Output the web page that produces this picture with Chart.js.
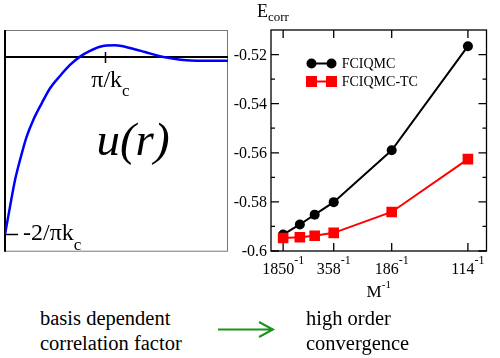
<!DOCTYPE html>
<html>
<head>
<meta charset="utf-8">
<script src="https://cdn.jsdelivr.net/npm/chart.js@4.4.1/dist/chart.umd.min.js"></script>
<style>
  body { margin: 0; background: #fff; }
  #wrap { position: relative; width: 500px; height: 358px; overflow: hidden; font-family: "Liberation Serif", serif; }
  canvas { position: absolute; top: 0; }
  #uChart { left: 0; }
  #eChart { left: 230px; }
  .note { position: absolute; font-size: 20.5px; line-height: 25px; color: #000; white-space: nowrap; }
  svg { position: absolute; left: 0; top: 0; }
</style>
</head>
<body>
<div id="wrap">
  <canvas id="uChart" width="235" height="300"></canvas>
  <canvas id="eChart" width="270" height="300"></canvas>
  <div class="note" style="left:40px; top:306px;">basis dependent<br>correlation factor</div>
  <svg width="500" height="358">
    <path d="M218 329.5 L272 329.5 M259 322 L273 329.5 L259 337" stroke="#1b941b" stroke-width="2" fill="none"/>
  </svg>
  <div class="note" style="left:306px; top:306px;">high order<br>convergence</div>
</div>
<script>
// correlation factor u(r): r in units of pi/kc, u in units of 2/(pi kc)
const rValues = [0, 0.05, 0.1, 0.15, 0.216, 0.282, 0.366, 0.449, 0.548, 0.648, 0.748, 0.847, 0.947, 1.097, 1.246, 1.396, 1.545, 1.645, 1.778, 1.911, 2.044, 2.223];
const uValues = [-1.0, -0.843, -0.693, -0.58, -0.449, -0.355, -0.261, -0.176, -0.107, -0.045, 0.002, 0.034, 0.058, 0.066, 0.051, 0.028, 0.004, -0.006, -0.017, -0.021, -0.021, -0.021];

// correlation energy vs basis size M
const basisSizes = [1850, 778, 514, 358, 186, 114];
const ecorrFciqmc = [-0.5933, -0.5892, -0.5852, -0.5801, -0.5590, -0.5166];
const ecorrFciqmcTC = [-0.5947, -0.5944, -0.5938, -0.5926, -0.5841, -0.5626];
const xTickBasis = [1850, 358, 186, 114];
const yTickValues = [-0.6, -0.58, -0.56, -0.54, -0.52];
const yTickLabels = ['-0.6', '-0.58', '-0.56', '-0.54', '-0.52'];
const yMinorValues = [-0.59, -0.57, -0.55, -0.53];

const FONT = '"Liberation Serif", serif';

function drawParts(ctx, parts, x, y, center) {
  let w = 0;
  parts.forEach(p => {
    ctx.font = (p.italic ? 'italic ' : '') + p.size + 'px ' + FONT;
    p.w = ctx.measureText(p.t).width;
    w += p.w;
  });
  let cx = center ? x - w / 2 : x;
  ctx.textAlign = 'left';
  ctx.textBaseline = 'alphabetic';
  parts.forEach(p => {
    ctx.font = (p.italic ? 'italic ' : '') + p.size + 'px ' + FONT;
    ctx.fillText(p.t, cx, y + (p.dy || 0));
    cx += p.w;
  });
}

const uDecor = {
  id: 'uDecor',
  beforeDatasetsDraw(chart) {
    const { ctx, chartArea: a, scales: { x, y } } = chart;
    ctx.save();
    ctx.strokeStyle = '#777';
    ctx.lineWidth = 1;
    ctx.strokeRect(a.left + 0.5, a.top + 0.5, a.right - a.left - 1, a.bottom - a.top - 1);
    ctx.strokeStyle = '#000';
    ctx.lineWidth = 2;
    ctx.beginPath();
    ctx.moveTo(a.left, a.top);
    ctx.lineTo(a.left, a.bottom);
    const y0 = y.getPixelForValue(0);
    ctx.moveTo(a.left, y0);
    ctx.lineTo(a.right, y0);
    ctx.stroke();
    // ticks at pi/kc and -2/(pi kc)
    ctx.lineWidth = 1.5;
    ctx.beginPath();
    const xt = Math.round(x.getPixelForValue(1)) + 0.5;
    ctx.moveTo(xt, y0 - 5);
    ctx.lineTo(xt, y0 + 6);
    const ym = y.getPixelForValue(-1);
    ctx.moveTo(a.left, ym);
    ctx.lineTo(a.left + 13, ym);
    ctx.stroke();
    ctx.fillStyle = '#000';
    drawParts(ctx, [{ t: 'π/k', size: 24 }, { t: 'c', size: 17, dy: 9 }], xt + 5, y0 + 30, true);
    drawParts(ctx, [{ t: '-2/πk', size: 24 }, { t: 'c', size: 17, dy: 10 }], a.left + 18, ym + 6, false);
    drawParts(ctx, [{ t: 'u(r)', size: 47, italic: true }], 133, 155, true);
    ctx.restore();
  }
};

const eDecor = {
  id: 'eDecor',
  beforeDatasetsDraw(chart) {
    const { ctx, chartArea: a, scales: { x, y } } = chart;
    ctx.save();
    ctx.strokeStyle = '#000';
    ctx.lineWidth = 1.3;
    ctx.strokeRect(a.left, a.top, a.right - a.left, a.bottom - a.top);
    ctx.beginPath();
    yTickValues.forEach(v => {
      const p = y.getPixelForValue(v);
      ctx.moveTo(a.left, p); ctx.lineTo(a.left + 8, p);
      ctx.moveTo(a.right, p); ctx.lineTo(a.right - 8, p);
    });
    yMinorValues.forEach(v => {
      const p = y.getPixelForValue(v);
      ctx.moveTo(a.left, p); ctx.lineTo(a.left + 4, p);
      ctx.moveTo(a.right, p); ctx.lineTo(a.right - 4, p);
    });
    xTickBasis.forEach(m => {
      const p = x.getPixelForValue(1 / m);
      ctx.moveTo(p, a.bottom); ctx.lineTo(p, a.bottom - 8);
      ctx.moveTo(p, a.top); ctx.lineTo(p, a.top + 8);
    });
    ctx.stroke();

    ctx.fillStyle = '#000';
    ctx.font = '16px ' + FONT;
    ctx.textAlign = 'right';
    ctx.textBaseline = 'middle';
    yTickValues.forEach((v, i) => {
      ctx.fillText(yTickLabels[i], a.left - 4, y.getPixelForValue(v) + 1);
    });
    xTickBasis.forEach(m => {
      drawParts(ctx, [{ t: String(m), size: 16 }, { t: '-1', size: 12, dy: -10 }], x.getPixelForValue(1 / m), a.bottom + 23, true);
    });
    drawParts(ctx, [{ t: 'M', size: 17 }, { t: '-1', size: 11, dy: -9 }], (a.left + a.right) / 2, a.bottom + 46, true);
    drawParts(ctx, [{ t: 'E', size: 18 }, { t: 'corr', size: 13, dy: 4 }], 27, 17, false);

    // legend
    const items = chart.data.datasets;
    [63.5, 81.5].forEach((ly, i) => {
      const ds = items[i];
      ctx.strokeStyle = ds.borderColor;
      ctx.fillStyle = ds.backgroundColor;
      ctx.lineWidth = 2;
      ctx.beginPath();
      ctx.moveTo(81.5, ly); ctx.lineTo(101.5, ly);
      ctx.stroke();
      [81.5, 101.5].forEach(lx => {
        if (ds.pointStyle === 'rect') {
          ctx.fillRect(lx - 5.5, ly - 5.5, 11, 11);
        } else {
          ctx.beginPath();
          ctx.arc(lx, ly, 5, 0, Math.PI * 2);
          ctx.fill();
        }
      });
      ctx.fillStyle = '#000';
      ctx.font = '14px ' + FONT;
      ctx.textAlign = 'left';
      ctx.textBaseline = 'middle';
      ctx.fillText(ds.label, 111.7, ly + 1);
    });
    ctx.restore();
  }
};

// the italic serif face is loaded lazily, so wait for it before drawing on canvas
Promise.all([
  document.fonts.load('italic 47px "Liberation Serif"'),
  document.fonts.load('16px "Liberation Serif"')
]).catch(() => {}).then(() => {
  new Chart(document.getElementById('uChart'), {
    type: 'line',
    data: {
      datasets: [{
        data: rValues.map((r, i) => ({ x: r, y: uValues[i] })),
        borderColor: '#0000ff',
        borderWidth: 2.5,
        pointRadius: 0,
        cubicInterpolationMode: 'monotone',
        fill: false
      }]
    },
    options: {
      responsive: false,
      animation: false,
      devicePixelRatio: 1,
      layout: { padding: { left: 5, top: 30, right: 7, bottom: 48.3 } },
      scales: {
        x: { type: 'linear', min: 0, max: 2.223, display: false },
        y: { type: 'linear', min: -1.097, max: 0.152, display: false }
      },
      plugins: { legend: { display: false }, tooltip: { enabled: false } }
    },
    plugins: [uDecor]
  });

  new Chart(document.getElementById('eChart'), {
    type: 'line',
    data: {
      datasets: [{
        label: 'FCIQMC',
        data: basisSizes.map((m, i) => ({ x: 1 / m, y: ecorrFciqmc[i] })),
        borderColor: '#000',
        backgroundColor: '#000',
        borderWidth: 2,
        pointStyle: 'circle',
        pointRadius: 5,
        pointBorderWidth: 0,
        order: 1
      }, {
        label: 'FCIQMC-TC',
        data: basisSizes.map((m, i) => ({ x: 1 / m, y: ecorrFciqmcTC[i] })),
        borderColor: '#ff0000',
        backgroundColor: '#ff0000',
        borderWidth: 2,
        pointStyle: 'rect',
        pointRadius: 7.5,
        pointBorderWidth: 0,
        order: 0
      }]
    },
    options: {
      responsive: false,
      animation: false,
      devicePixelRatio: 1,
      layout: { padding: { left: 41, top: 30, right: 13.5, bottom: 49 } },
      scales: {
        x: { type: 'linear', min: 0, max: 0.0096, display: false },
        y: { type: 'linear', min: -0.6, max: -0.51, display: false }
      },
      plugins: { legend: { display: false }, tooltip: { enabled: false } }
    },
    plugins: [eDecor]
  });
});
</script>
</body>
</html>
